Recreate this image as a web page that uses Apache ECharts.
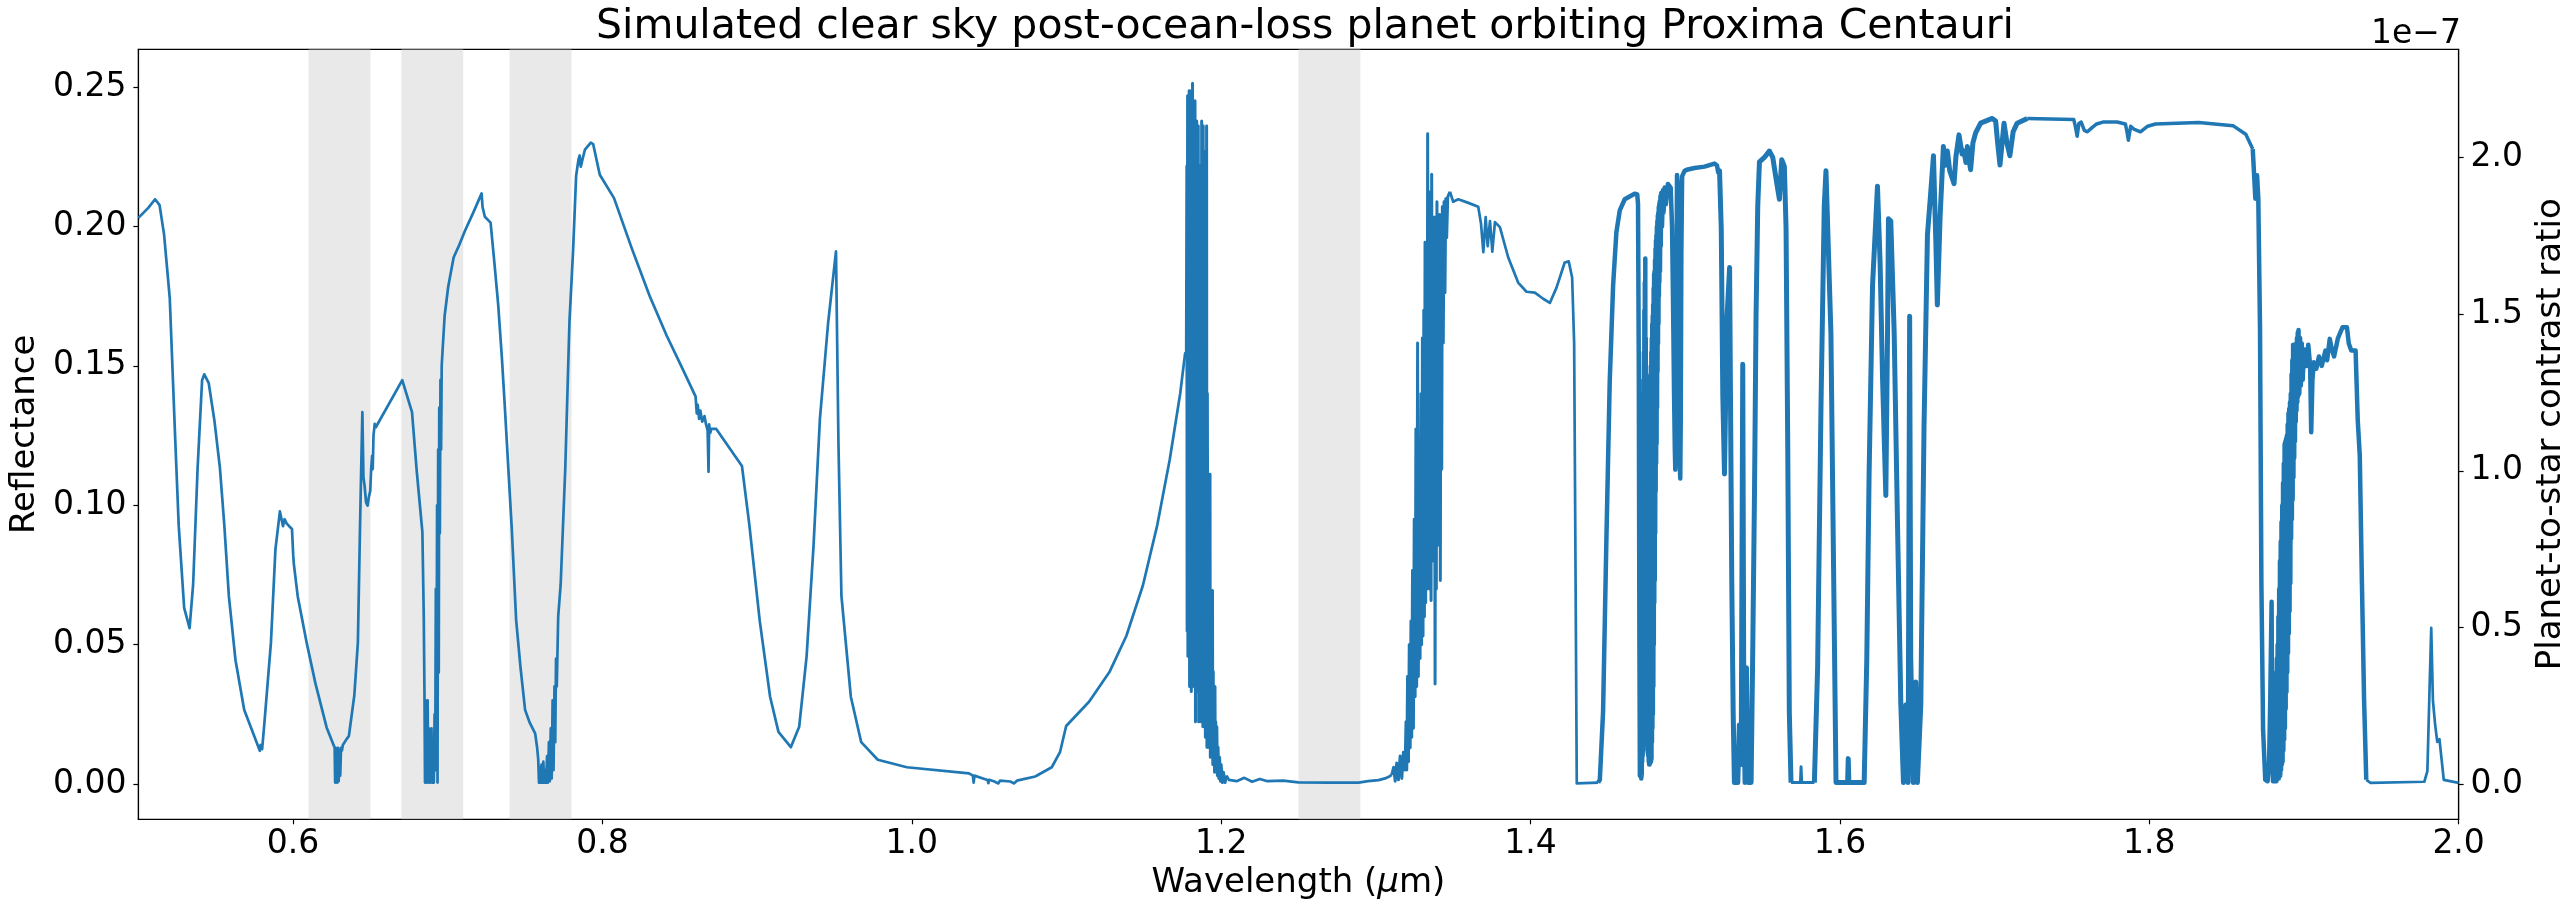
<!DOCTYPE html>
<html>
<head>
<meta charset="utf-8">
<script src="https://cdn.jsdelivr.net/npm/echarts@6/dist/echarts.min.js"></script>
<style>
html,body{margin:0;padding:0;background:#fff;}
#chart{width:2576px;height:916px;}
</style>
</head>
<body>
<div id="chart"></div>
<script>
// ---- tick labels ----
const xTicks = [0.6, 0.8, 1.0, 1.2, 1.4, 1.6, 1.8, 2.0];
const reflTicks = [0, 0.05, 0.10, 0.15, 0.20, 0.25];
const contrastTicks = [0, 0.5, 1.0, 1.5, 2.0]; // units of 1e-7

// ---- shaded wavelength bands (µm) ----
const bands = [[0.61, 0.65], [0.67, 0.71], [0.74, 0.78], [1.25, 1.29]];

// ---- spectrum pieces: [wavelength µm, reflectance] ----
const visible = [
[0.5000,0.2031],[0.5064,0.2067],[0.5108,0.2098],[0.5137,0.2077],[0.5166,0.1972],[0.5203,0.1742],[0.5238,0.1240],[0.5261,0.0925],[0.5296,0.0632],[0.5331,0.0559],[0.5354,0.0716],[0.5383,0.1135],[0.5412,0.1449],[0.5426,0.1470],[0.5455,0.1438],[0.5492,0.1302],[0.5527,0.1135],[0.5556,0.0925],[0.5585,0.0674],[0.5628,0.0444],[0.5684,0.0266],[0.5742,0.0182],[0.5785,0.0119],[0.5790,0.0140],[0.5800,0.0125],[0.5814,0.0214],[0.5857,0.0507],[0.5886,0.0842],[0.5915,0.0978],[0.5935,0.0925],[0.5945,0.0950],[0.5958,0.0935],[0.5975,0.0925],[0.5993,0.0915],[0.6001,0.0821],[0.6005,0.0790],[0.6030,0.0674],[0.6088,0.0507],[0.6145,0.0360],[0.6217,0.0203],[0.6269,0.0130],
[0.6272,0.0005],[0.6275,0.0130],[0.6279,0.0005],[0.6283,0.0120],[0.6287,0.0005],[0.6291,0.0130],[0.6295,0.0010],[0.6300,0.0120],[0.6305,0.0030],[0.6310,0.0130],[0.6316,0.0120],[0.6322,0.0140],[0.6331,0.0140],[0.6345,0.0160],[0.6361,0.0172],[0.6396,0.0318],[0.6419,0.0507],[0.6433,0.0925],[0.6448,0.1334],[0.6455,0.1100],[0.6462,0.1072],[0.6472,0.1010],[0.6482,0.0999],[0.6490,0.1030],[0.6499,0.1051],[0.6505,0.1130],[0.6511,0.1177],[0.6515,0.1130],[0.6520,0.1250],[0.6528,0.1292],[0.6535,0.1280],[0.6706,0.1449],[0.6769,0.1334],[0.6800,0.1120],[0.6836,0.0905]
];
const oxygenB = [
[0.6845,0.0600],[0.6850,0.0297],[0.6853,0.0005],[0.6856,0.0300],[0.6859,0.0005],[0.6862,0.0250],[0.6866,0.0005],[0.6870,0.0300],[0.6874,0.0005],[0.6878,0.0200],[0.6882,0.0005],[0.6886,0.0150],[0.6890,0.0005],[0.6895,0.0200],[0.6900,0.0005],[0.6905,0.0100],[0.6910,0.0005],[0.6915,0.0250],[0.6919,0.0050],[0.6923,0.0700],[0.6927,0.0100],[0.6931,0.1000],[0.6934,0.0005],[0.6938,0.1200],[0.6942,0.0400],[0.6945,0.1350],[0.6949,0.0900],[0.6953,0.1450],[0.6957,0.1200],[0.6961,0.1500],[0.6966,0.1550],[0.6980,0.1680],[0.7003,0.1784],[0.7038,0.1889],[0.7075,0.1935],[0.7110,0.1983],[0.7165,0.2050],[0.7219,0.2119],[0.7225,0.2070],[0.7240,0.2035],[0.7277,0.2014],[0.7300,0.1880],[0.7326,0.1721],[0.7350,0.1530],[0.7370,0.1344],[0.7413,0.0925],[0.7442,0.0590],[0.7470,0.0420],[0.7500,0.0266],[0.7530,0.0220],[0.7565,0.0182]
];
const oxygenA = [
[0.7578,0.0130],[0.7585,0.0088],[0.7590,0.0005],[0.7595,0.0060],[0.7600,0.0005],[0.7606,0.0070],[0.7612,0.0005],[0.7618,0.0080],[0.7624,0.0005],[0.7630,0.0050],[0.7636,0.0005],[0.7642,0.0100],[0.7648,0.0005],[0.7654,0.0150],[0.7660,0.0010],[0.7666,0.0200],[0.7672,0.0020],[0.7678,0.0300],[0.7684,0.0050],[0.7690,0.0350],[0.7695,0.0150],[0.7700,0.0450],[0.7705,0.0350],[0.7714,0.0600],[0.7730,0.0716],[0.7760,0.1135],[0.7787,0.1660],[0.7810,0.1910],[0.7830,0.2182],[0.7845,0.2240],[0.7853,0.2255],[0.7860,0.2215],[0.7873,0.2245],[0.7887,0.2276],[0.7925,0.2301],[0.7940,0.2296],[0.7983,0.2186],[0.8075,0.2102],[0.8191,0.1920],[0.8306,0.1750]
];
const nearIR = [
[0.8415,0.1609],[0.8509,0.1500],[0.8602,0.1391],[0.8610,0.1330],[0.8616,0.1360],[0.8625,0.1310],[0.8633,0.1340],[0.8645,0.1300],[0.8660,0.1320],[0.8669,0.1292],[0.8680,0.1270],[0.8686,0.1120],[0.8690,0.1290],[0.8697,0.1260],[0.8704,0.1274],[0.8736,0.1274],[0.8902,0.1141],[0.8950,0.0929],[0.9017,0.0585],[0.9084,0.0313],[0.9138,0.0187],[0.9218,0.0132],[0.9272,0.0205],[0.9320,0.0458],[0.9365,0.0857],[0.9406,0.1310],[0.9459,0.1654],[0.9510,0.1911],[0.9526,0.1219],[0.9545,0.0676],[0.9606,0.0313],[0.9673,0.0150],[0.9780,0.0087],[0.9968,0.0060],[1.0370,0.0038],[1.0395,0.0030],[1.0400,0.0005],[1.0405,0.0030],[1.0460,0.0020],[1.0490,0.0014],[1.0495,0.0003],[1.0500,0.0015],[1.0530,0.0010],[1.0560,0.0002],[1.0570,0.0012],[1.0637,0.0009],[1.0660,0.0002],[1.0680,0.0012],[1.0798,0.0027],[1.0905,0.0060],[1.0958,0.0114],[1.0998,0.0208],[1.1146,0.0295],[1.1280,0.0404],[1.1387,0.0531],[1.1494,0.0712],[1.1587,0.0929],[1.1668,0.1165],[1.1735,0.1400],[1.1767,0.1545],[1.1775,0.1540]
];
const band118 = [
[1.1775,0.1540],[1.1778,0.2216],[1.1780,0.0549],[1.1783,0.2469],[1.1785,0.0458],[1.1788,0.2451],[1.1791,0.0585],[1.1793,0.2487],[1.1796,0.0350],[1.1799,0.2433],[1.1801,0.0495],[1.1804,0.2451],[1.1807,0.0332],[1.1809,0.2487],[1.1812,0.0404],[1.1815,0.2514],[1.1817,0.0350],[1.1820,0.2433],[1.1823,0.0585],[1.1825,0.2379],[1.1828,0.0404],[1.1831,0.2451],[1.1834,0.0223],[1.1836,0.2270],[1.1839,0.0458],[1.1842,0.2379],[1.1844,0.0332],[1.1847,0.2125],[1.1850,0.0495],[1.1852,0.2361],[1.1855,0.0223],[1.1858,0.1853],[1.1860,0.0404],[1.1863,0.2216],[1.1866,0.0350],[1.1868,0.2125],[1.1871,0.0223],[1.1874,0.2379],[1.1876,0.0458],[1.1879,0.1400],[1.1882,0.0205],[1.1884,0.2361],[1.1887,0.0332],[1.1890,0.2270],[1.1892,0.0205],[1.1895,0.1853],[1.1898,0.0168],[1.1900,0.1111],[1.1903,0.0223],[1.1906,0.2361],[1.1908,0.0132],[1.1911,0.1400],[1.1914,0.0205],[1.1917,0.1111],[1.1919,0.0132],[1.1922,0.0900],[1.1925,0.0168],[1.1928,0.1111],[1.1930,0.0096],[1.1933,0.0694],[1.1935,0.0132],[1.1938,0.0585],[1.1941,0.0096],[1.1944,0.0694],[1.1946,0.0070],[1.1949,0.0404],[1.1951,0.0096],[1.1954,0.0350],[1.1957,0.0042],[1.1960,0.0350],[1.1962,0.0070],[1.1965,0.0223],[1.1968,0.0042],[1.1972,0.0205],[1.1976,0.0030],[1.1980,0.0132],[1.1985,0.0020],[1.1990,0.0096],[1.1995,0.0010],[1.2000,0.0070],[1.2008,0.0005],[1.2015,0.0042],[1.2025,0.0005],[1.2035,0.0030]
];
const gap12 = [
[1.2035,0.0030],[1.2050,0.0015],[1.2100,0.0010],[1.2150,0.0022],[1.2200,0.0008],[1.2250,0.0018],[1.2300,0.0010],[1.2400,0.0012],[1.2500,0.0006],[1.2700,0.0005],[1.2888,0.0005],[1.2950,0.0010],[1.3017,0.0014],[1.3060,0.0020],[1.3090,0.0028],[1.3103,0.0033]
];
const band133 = [
[1.3103,0.0033],[1.3115,0.0060],[1.3125,0.0010],[1.3135,0.0075],[1.3146,0.0015],[1.3157,0.0100],[1.3168,0.0020],[1.3178,0.0114],[1.3189,0.0050],[1.3195,0.0223],[1.3200,0.0050],[1.3205,0.0386],[1.3211,0.0080],[1.3216,0.0500],[1.3222,0.0130],[1.3227,0.0585],[1.3232,0.0168],[1.3237,0.0766],[1.3243,0.0200],[1.3248,0.0950],[1.3254,0.0313],[1.3259,0.1274],[1.3264,0.0350],[1.3270,0.1582],[1.3275,0.0386],[1.3280,0.1219],[1.3286,0.0450],[1.3292,0.1400],[1.3296,0.0500],[1.3301,0.1600],[1.3305,0.0531],[1.3310,0.1700],[1.3314,0.0600],[1.3318,0.1944],[1.3322,0.0650],[1.3326,0.1763],[1.3331,0.0700],[1.3335,0.2333],[1.3340,0.0766],[1.3344,0.2125],[1.3348,0.0700],[1.3353,0.1944],[1.3357,0.0658],[1.3361,0.2188],[1.3366,0.0800],[1.3370,0.1853],[1.3374,0.0857],[1.3378,0.2034],[1.3383,0.0359],[1.3387,0.1944],[1.3391,0.0700],[1.3395,0.2089],[1.3400,0.0900],[1.3404,0.1853],[1.3408,0.0857],[1.3413,0.2043],[1.3417,0.0730],[1.3421,0.1944],[1.3426,0.1129],[1.3430,0.2071],[1.3436,0.1582],[1.3441,0.2089],[1.3447,0.1763],[1.3452,0.2100],[1.3458,0.1960],[1.3465,0.2107],[1.3479,0.2125]
];
const shoulder14 = [
[1.3479,0.2125],[1.3500,0.2089],[1.3533,0.2098],[1.3598,0.2085],[1.3662,0.2071],[1.3680,0.2010],[1.3695,0.1908],[1.3710,0.2034],[1.3723,0.1930],[1.3738,0.2020],[1.3753,0.1910],[1.3770,0.2016],[1.3802,0.1998],[1.3856,0.1889],[1.3920,0.1799],[1.3974,0.1766],[1.4028,0.1763],[1.4082,0.1741],[1.4125,0.1726],[1.4168,0.1781],[1.4221,0.1871],[1.4247,0.1875],[1.4269,0.1817],[1.4282,0.1582],[1.4290,0.0857],[1.4299,0.0002],[1.4437,0.0005]
];
const band147 = [
[1.4437,0.0005],[1.4448,0.0015],[1.4469,0.0259],[1.4491,0.0891],[1.4512,0.1443],[1.4534,0.1790],[1.4555,0.1979],[1.4577,0.2058],[1.4609,0.2098],[1.4673,0.2118],[1.4690,0.2115],[1.4695,0.2080],[1.4700,0.1500],[1.4704,0.0500],[1.4707,0.0030],
[1.4712,0.030],[1.4713,0.003],[1.4715,0.060],[1.4716,0.002],[1.4718,0.100],[1.4719,0.003],[1.4721,0.130],[1.4722,0.008],[1.4724,0.140],[1.4725,0.010],[1.4727,0.1396],[1.4728,0.012],[1.4730,0.145],[1.4731,0.015],[1.4733,0.155],[1.4734,0.018],[1.4736,0.170],[1.4737,0.020],[1.4739,0.180],[1.4740,0.022],[1.4742,0.1885],[1.4743,0.022],[1.4745,0.160],[1.4746,0.023],[1.4748,0.147],[1.4749,0.022],[1.4751,0.146],[1.4752,0.018],[1.4754,0.146],[1.4755,0.014],[1.4757,0.146],[1.4758,0.011],[1.4760,0.145],[1.4761,0.010],[1.4763,0.140],[1.4764,0.008],[1.4766,0.138],[1.4767,0.007],[1.4769,0.137],[1.4770,0.007],[1.4772,0.140],[1.4773,0.0075],[1.4775,0.145],[1.4776,0.008],[1.4778,0.150],[1.4779,0.008],[1.4781,0.155],[1.4782,0.009],[1.4784,0.160],[1.4785,0.015],[1.4787,0.165],[1.4788,0.020],[1.4790,0.168],[1.4791,0.025],[1.4793,0.172],[1.4794,0.035],[1.4796,0.178],[1.4797,0.050],[1.4799,0.183],[1.4800,0.065],[1.4802,0.184],[1.4803,0.073],[1.4805,0.188],[1.4806,0.090],[1.4808,0.192],[1.4809,0.105],[1.4811,0.195],[1.4812,0.115],[1.4814,0.197],[1.4815,0.122],[1.4817,0.200],[1.4818,0.135],[1.4820,0.202],[1.4821,0.148],[1.4823,0.204],[1.4824,0.158],[1.4826,0.205],[1.4827,0.165],[1.4829,0.207],[1.4830,0.175],[1.4832,0.208],[1.4833,0.180],[1.4835,0.209],[1.4837,0.184],[1.4840,0.211],[1.4842,0.193],[1.4845,0.212],[1.4850,0.200],[1.4856,0.213],[1.4860,0.205],[1.4867,0.214],[1.4875,0.208],[1.4888,0.2153],
[1.4900,0.2160],[1.4906,0.2140],[1.4915,0.2000],[1.4922,0.1700],[1.4928,0.1400],[1.4933,0.1200],[1.4936,0.1128],[1.4939,0.1250],[1.4943,0.1700],[1.4947,0.2185],[1.4952,0.2150],[1.4956,0.1800],[1.4960,0.1400],[1.4965,0.1150],[1.4968,0.1096],[1.4971,0.1300],[1.4975,0.1900],[1.4980,0.2180],[1.4996,0.2200],[1.5017,0.2205],[1.5060,0.2210],[1.5125,0.2215],[1.5189,0.2226],[1.5205,0.2220],[1.5215,0.2190]
];
const band152 = [
[1.5215,0.2190],[1.5222,0.2200],[1.5233,0.1995],[1.5243,0.1396],[1.5254,0.1112],[1.5261,0.1364],[1.5271,0.1680],[1.5287,0.1853],[1.5293,0.1364],[1.5301,0.0733],[1.5310,0.0260],[1.5318,0.0005],[1.5340,0.0005],[1.5350,0.0212],[1.5362,0.0070],[1.5372,0.1506],[1.5379,0.0260],[1.5387,0.0005],[1.5396,0.0417],[1.5405,0.0005],[1.5426,0.0005],[1.5437,0.0496],[1.5448,0.1049],[1.5458,0.1680],[1.5469,0.2074],[1.5480,0.2232],[1.5512,0.2248],[1.5544,0.2271],[1.5566,0.2248],[1.5588,0.2169],[1.5609,0.2098],[1.5624,0.2240],[1.5641,0.2216],[1.5652,0.1995],[1.5663,0.1206],[1.5673,0.0260],[1.5684,0.0005]
];
const gap157 = [
[1.5684,0.0005],[1.5745,0.0005],[1.5749,0.0062],[1.5753,0.0005],[1.5835,0.0005]
];
const band16 = [
[1.5835,0.0005],[1.5856,0.0417],[1.5878,0.1364],[1.5899,0.2074],[1.5910,0.2200],[1.5921,0.2204],[1.5942,0.1619],[1.5959,0.0784],[1.5975,0.0005],[1.6050,0.0005],[1.6054,0.0091],[1.6058,0.0005],[1.6157,0.0005],[1.6174,0.0450],[1.6189,0.1118],[1.6211,0.1786],[1.6243,0.2145],[1.6260,0.1870],[1.6276,0.1452],[1.6297,0.1035],[1.6308,0.1619],[1.6314,0.2028],[1.6329,0.2020],[1.6351,0.1619],[1.6372,0.0951],[1.6394,0.0283],[1.6411,0.0005],[1.6426,0.0283],[1.6441,0.0005],[1.6451,0.1678],[1.6458,0.0450],[1.6475,0.0005],[1.6491,0.0366],[1.6501,0.0005],[1.6523,0.0283],[1.6544,0.1285],[1.6566,0.1970],[1.6587,0.2120],[1.6605,0.2254],[1.6620,0.1953],[1.6630,0.1719],[1.6648,0.2037],[1.6669,0.2287],[1.6680,0.2220],[1.6695,0.2271],[1.6710,0.2200],[1.6738,0.2154],[1.6750,0.2250],[1.6770,0.2329],[1.6790,0.2260],[1.6802,0.2271],[1.6815,0.2230],[1.6824,0.2287],[1.6835,0.2240],[1.6845,0.2204],[1.6860,0.2300],[1.6878,0.2337],[1.6910,0.2371],[1.6985,0.2388],[1.7007,0.2379],[1.7020,0.2300],[1.7035,0.2221],[1.7061,0.2371],[1.7080,0.2300],[1.7099,0.2254],[1.7120,0.2340],[1.7146,0.2371],[1.7211,0.2388]
];
const plateau = [
[1.7211,0.2388],[1.7512,0.2384],[1.7522,0.2360],[1.7534,0.2324],[1.7545,0.2370],[1.7560,0.2375],[1.7580,0.2345],[1.7600,0.2340],[1.7630,0.2355],[1.7660,0.2368],[1.7700,0.2375],[1.7792,0.2375],[1.7846,0.2368],[1.7856,0.2340],[1.7865,0.2310],[1.7880,0.2360],[1.7900,0.2350],[1.7943,0.2340],[1.7990,0.2360],[1.8040,0.2368],[1.8319,0.2373],[1.8541,0.2362],[1.8624,0.2331],[1.8669,0.2278]
];
const band19 = [
[1.8669,0.2278],[1.8686,0.2100],[1.8697,0.2184],[1.8705,0.2100],[1.8716,0.1639],[1.8725,0.0717],[1.8736,0.0193],[1.8750,0.0015],[1.8765,0.0010],[1.8775,0.0080],[1.8782,0.0300],[1.8791,0.0654],[1.8795,0.0100],[1.8800,0.0010],
[1.8805,0.025],[1.8807,0.001],[1.8810,0.030],[1.8812,0.001],[1.8815,0.035],[1.8817,0.001],[1.8820,0.040],[1.8822,0.001],[1.8825,0.045],[1.8827,0.002],[1.8830,0.050],[1.8832,0.002],[1.8835,0.060],[1.8837,0.002],[1.8840,0.070],[1.8842,0.003],[1.8845,0.080],[1.8847,0.003],[1.8850,0.087],[1.8852,0.005],[1.8855,0.094],[1.8857,0.007],[1.8860,0.100],[1.8862,0.008],[1.8865,0.108],[1.8867,0.012],[1.8870,0.115],[1.8872,0.016],[1.8875,0.122],[1.8877,0.020],[1.8880,0.123],[1.8882,0.027],[1.8885,0.124],[1.8887,0.033],[1.8890,0.125],[1.8892,0.040],[1.8895,0.129],[1.8897,0.047],[1.8900,0.133],[1.8902,0.054],[1.8905,0.1346],[1.8907,0.062],[1.8910,0.137],[1.8912,0.072],[1.8915,0.140],[1.8917,0.088],[1.8920,0.147],[1.8922,0.095],[1.8925,0.152],[1.8927,0.102],[1.8930,0.1576],[1.8932,0.110],[1.8935,0.156],[1.8937,0.117],[1.8940,0.155],[1.8942,0.123],[1.8945,0.155],[1.8947,0.130],[1.8950,0.158],[1.8952,0.134],[1.8955,0.160],[1.8957,0.137],[1.8960,0.162],[1.8962,0.139],[1.8965,0.1629],[1.8970,0.140],[1.8975,0.160],[1.8980,0.143],[1.8986,0.158],[1.8992,0.145],
[1.9000,0.1560],[1.9015,0.1500],[1.9028,0.1576],[1.9040,0.1500],[1.9047,0.1262],[1.9055,0.1450],[1.9064,0.1513],[1.9080,0.1490],[1.9097,0.1534],[1.9115,0.1500],[1.9139,0.1555],[1.9150,0.1520],[1.9167,0.1597],[1.9180,0.1560],[1.9195,0.1534],[1.9220,0.1600],[1.9250,0.1639],[1.9278,0.1639],[1.9290,0.1580],[1.9306,0.1555],[1.9334,0.1555],[1.9348,0.1304],[1.9361,0.1178],[1.9375,0.0717],[1.9389,0.0298],[1.9403,0.0015]
];
const tail = [
[1.9403,0.0015],[1.9431,0.0004],[1.9778,0.0008],[1.9798,0.0046],[1.9812,0.0340],[1.9823,0.0560],[1.9834,0.0298],[1.9848,0.0214],[1.9862,0.0151],[1.9876,0.0161],[1.9890,0.0088],[1.9904,0.0015],[2.0000,0.0004]
];

// pieces drawn as one continuous curve; dense absorption regions get a heavier stroke
const pieces = [
  {data: [].concat(visible, oxygenB, oxygenA, nearIR), w: 2.7},
  {data: band118, w: 3},
  {data: gap12, w: 2.7},
  {data: band133, w: 3},
  {data: shoulder14, w: 2.7},
  {data: band147, w: 4.5},
  {data: band152, w: 5},
  {data: gap157, w: 3},
  {data: band16, w: 5},
  {data: plateau, w: 3.5},
  {data: band19, w: 4.5},
  {data: tail, w: 2.7}
];

const FONT = 'DejaVu Sans';
const BLUE = '#1f77b4';
const series = pieces.map(p => ({
  type: 'line', data: p.data, xAxisIndex: 0, yAxisIndex: 0,
  showSymbol: false, symbol: 'none', sampling: null, silent: true,
  lineStyle: {color: BLUE, width: p.w, join: 'round'},
  itemStyle: {color: BLUE}, z: 3
}));
series[0].markArea = {
  silent: true,
  itemStyle: {color: 'rgba(211,211,211,0.5)'},
  data: bands.map(b => [{xAxis: b[0]}, {xAxis: b[1]}])
};

const chart = echarts.init(document.getElementById('chart'), null, {renderer: 'canvas'});
chart.setOption({
  animation: false,
  backgroundColor: '#ffffff',
  textStyle: {fontFamily: FONT, color: '#000'},
  title: {
    text: 'Simulated clear sky post-ocean-loss planet orbiting Proxima Centauri',
    left: 1300, top: 2, textAlign: 'center',
    textStyle: {fontFamily: FONT, fontSize: 41, fontWeight: 'normal', color: '#000'}
  },
  graphic: [{
    type: 'text', x: 2461, y: 34,
    style: {text: '1e\u22127', font: '33px "DejaVu Sans"', fill: '#000', align: 'right', verticalAlign: 'middle'}
  }],
  grid: {left: 137.3, right: 113.7, top: 49.3, bottom: 96.7, show: true, borderColor: '#000', borderWidth: 1.2, backgroundColor: 'transparent'},
  xAxis: {
    type: 'value', min: 0.5, max: 2.0,
    name: 'Wavelength ({i|\u03bc}m)', nameLocation: 'middle', nameGap: 46,
    nameTextStyle: {fontFamily: FONT, fontSize: 34, color: '#000',
      rich: {i: {fontFamily: FONT, fontSize: 34, fontStyle: 'italic', color: '#000'}}},
    axisLine: {show: true, onZero: false, lineStyle: {color: '#000', width: 1.2}},
    axisTick: {show: true, length: 5, lineStyle: {color: '#000', width: 1.2}, customValues: xTicks},
    axisLabel: {fontFamily: FONT, fontSize: 33, color: '#000', margin: 9, customValues: xTicks,
      formatter: v => v.toFixed(1)},
    splitLine: {show: false}
  },
  yAxis: [{
    type: 'value', min: -0.01267, max: 0.2636, position: 'left',
    name: 'Reflectance', nameLocation: 'middle', nameGap: 88, nameRotate: 90,
    nameTextStyle: {fontFamily: FONT, fontSize: 34, color: '#000'},
    axisLine: {show: true, onZero: false, lineStyle: {color: '#000', width: 1.2}},
    axisTick: {show: true, length: 5, lineStyle: {color: '#000', width: 1.2}, customValues: reflTicks},
    axisLabel: {fontFamily: FONT, fontSize: 33, color: '#000', margin: 12, customValues: reflTicks,
      formatter: v => v.toFixed(2)},
    splitLine: {show: false}
  }, {
    type: 'value', min: -0.1127, max: 2.3458, position: 'right',
    name: 'Planet-to-star contrast ratio', nameLocation: 'middle', nameGap: 62, nameRotate: 90,
    nameTextStyle: {fontFamily: FONT, fontSize: 34, color: '#000'},
    axisLine: {show: true, onZero: false, lineStyle: {color: '#000', width: 1.2}},
    axisTick: {show: true, length: 5, lineStyle: {color: '#000', width: 1.2}, customValues: contrastTicks},
    axisLabel: {fontFamily: FONT, fontSize: 33, color: '#000', margin: 12, customValues: contrastTicks,
      formatter: v => v.toFixed(1)},
    splitLine: {show: false}
  }],
  series: series
});
</script>
</body>
</html>
